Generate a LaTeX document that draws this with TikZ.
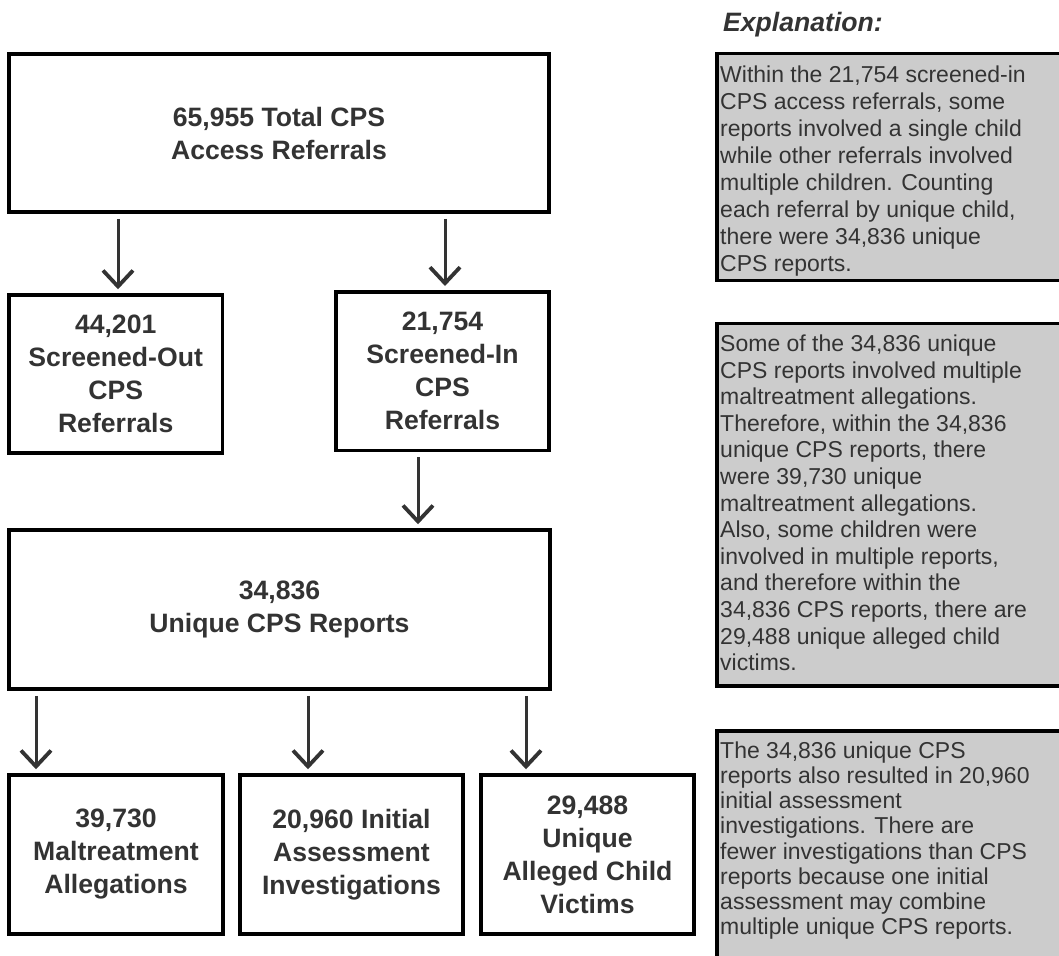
\documentclass[tikz,border=0pt]{standalone}
\usepackage{fontspec}
\setmainfont{Liberation Sans}
\usetikzlibrary{arrows.meta}

\definecolor{inkgray}{HTML}{333333}
\definecolor{notegray}{HTML}{CCCCCC}

\tikzset{
  countbox/.style={draw=black, line width=3.5pt, inner sep=0pt, align=center,
    text=inkgray, font=\bfseries\fontsize{26.6}{33}\selectfont},
  flow/.style={draw=inkgray, line width=3pt,
    -{Straight Barb[length=16pt,width=30pt,line width=3.8pt]}, shorten <=5pt, shorten >=4pt},
  notebox/.style={draw=black, fill=notegray, line width=3.5pt},
  notetext/.style={anchor=north west, inner sep=0pt, align=left,
    text=inkgray, font=\fontsize{23}{#1}\selectfont},
  notetext/.default=26.6,
}

\begin{document}
\begin{tikzpicture}[x=1pt, y=-1pt]

% Page frame (pixels of the original)
\useasboundingbox (0,0) rectangle (1059,955);

% Count boxes
\node[countbox, minimum width=540, minimum height=158] (total) at (279,133) {65,955 Total CPS\\Access Referrals};
\node[countbox, minimum width=213.5, minimum height=158] (out) at (115.7,374) {44,201\\Screened-Out\\CPS\\Referrals};
\node[countbox, minimum width=213, minimum height=158.5] (in) at (442.5,371) {21,754\\Screened-In\\CPS\\Referrals};
\node[countbox, minimum width=541, minimum height=159] (reports) at (279.5,609.5) {34,836\\Unique CPS Reports};
\node[countbox, minimum width=214, minimum height=159] (allegations) at (116,854.5) {39,730\\Maltreatment\\Allegations};
\node[countbox, minimum width=223, minimum height=159] (investigations) at (351.5,854.5) {20,960 Initial\\Assessment\\Investigations};
\node[countbox, minimum width=213, minimum height=159] (victims) at (587.5,854.5) {29,488\\Unique\\Alleged Child\\Victims};

% Arrows between boxes
\draw[flow] (total.south -| 118,0) -- (out.north -| 118,0);
\draw[flow] (total.south -| 445,0) -- (in.north -| 445,0);
\draw[flow] (in.south -| 418,0) -- (reports.north -| 418,0);
\foreach \ax/\target in {36/allegations, 308/investigations, 526/victims}
  \draw[flow] (reports.south -| \ax,0) -- (\target.north -| \ax,0);

% Explanation column
\node[anchor=base west, inner sep=0pt, text=inkgray,
  font=\bfseries\itshape\fontsize{26.6}{32}\selectfont] (expl) at (723,32) {Explanation:};

\draw[notebox] (717,53.3) rectangle (1064,280.5);
\node[notetext=27] (note1) at (720,65.3) {Within the 21,754 screened-in\\
CPS access referrals, some\\
reports involved a single child\\
while other referrals involved\\
multiple children. Counting\\
each referral by unique child,\\
there were 34,836 unique\\
CPS reports.};

\draw[notebox] (717,323.7) rectangle (1064,686);
\node[notetext=26.6] (note2) at (720,334.7) {Some of the 34,836 unique\\
CPS reports involved multiple\\
maltreatment allegations.\\
Therefore, within the 34,836\\
unique CPS reports, there\\
were 39,730 unique\\
maltreatment allegations.\\
Also, some children were\\
involved in multiple reports,\\
and therefore within the\\
34,836 CPS reports, there are\\
29,488 unique alleged child\\
victims.};

\draw[notebox] (717,731) rectangle (1064,975);
\node[notetext=25.2] (note3) at (720,741.5) {The 34,836 unique CPS\\
reports also resulted in 20,960\\
initial assessment\\
investigations. There are\\
fewer investigations than CPS\\
reports because one initial\\
assessment may combine\\
multiple unique CPS reports.};

\end{tikzpicture}
\end{document}
